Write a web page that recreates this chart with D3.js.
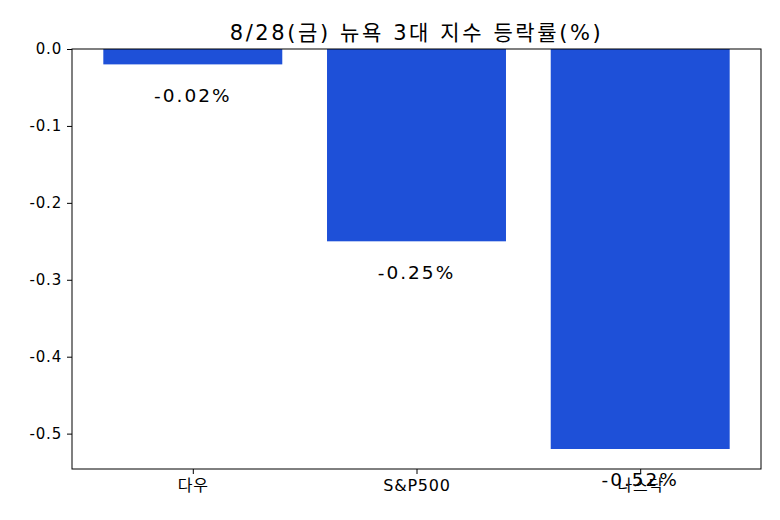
<!DOCTYPE html>
<html><head><meta charset="utf-8">
<script src="https://cdn.jsdelivr.net/npm/d3@7"></script>
<style>body{margin:0;background:#fff}svg{display:block}text{font-family:"DejaVu Sans","Noto Sans CJK KR",sans-serif}</style>
</head><body><svg id="c" width="780" height="520"></svg>
<script>
const categories = ["다우", "S&P500", "나스닥"];
const values = [-0.02, -0.25, -0.52];
const valueLabels = ["-0.02%", "-0.25%", "-0.52%"];
const yTicks = [0.0, -0.1, -0.2, -0.3, -0.4, -0.5];
const yTickLabels = ["0.0", "-0.1", "-0.2", "-0.3", "-0.4", "-0.5"];
const title = "8/28(금) 뉴욕 3대 지수 등락률(%)";

const svg = d3.select("#c");
const L = 72, R = 761, T = 49, B = 469;
const x = d3.scaleLinear().domain([-0.54, 2.54]).range([L, R]);
const y = d3.scaleLinear().domain([0, -0.546]).range([T, B]);
const color = "#1e50d8";

svg.selectAll("rect.bar").data(values).join("rect").attr("class","bar")
  .attr("x", (d,i)=>x(i-0.4)).attr("width", (d,i)=>x(i+0.4)-x(i-0.4))
  .attr("y", d=>y(0)).attr("height", d=>y(d)-y(0)).attr("fill", color);

const ya = svg.append("g").attr("transform",`translate(${L},0)`)
  .call(d3.axisLeft(y).tickValues(yTicks).tickFormat((d,i)=>yTickLabels[i]).tickSize(5).tickPadding(5));
ya.select(".domain").remove();
ya.selectAll("text").attr("font-size",15).attr("fill","#000").attr("letter-spacing",0.8);
ya.selectAll("line").attr("stroke","#000");

const xa = svg.append("g").attr("transform",`translate(0,${B})`)
  .call(d3.axisBottom(x).tickValues([0,1,2]).tickFormat((d)=>categories[d]).tickSize(5).tickPadding(6));
xa.select(".domain").remove();
xa.selectAll("text").attr("font-size",16).attr("fill","#000").attr("letter-spacing",0.8);
xa.selectAll("line").attr("stroke","#000");
ya.attr("font-family",null); xa.attr("font-family",null);

svg.append("rect").attr("x",L).attr("y",T).attr("width",R-L).attr("height",B-T)
  .attr("fill","none").attr("stroke","#000").attr("stroke-width",1);

svg.selectAll("text.vl").data(values).join("text").attr("class","vl")
  .attr("x",(d,i)=>x(i)).attr("y",d=>y(d-0.04)).attr("dy","0.35em")
  .attr("text-anchor","middle").attr("font-size",18.5).attr("letter-spacing",2).text((d,i)=>valueLabels[i]);

svg.append("text").attr("x",(L+R)/2).attr("y",T-9).attr("text-anchor","middle")
  .attr("font-size",21).attr("letter-spacing",2.6).text(title);
</script></body></html>
